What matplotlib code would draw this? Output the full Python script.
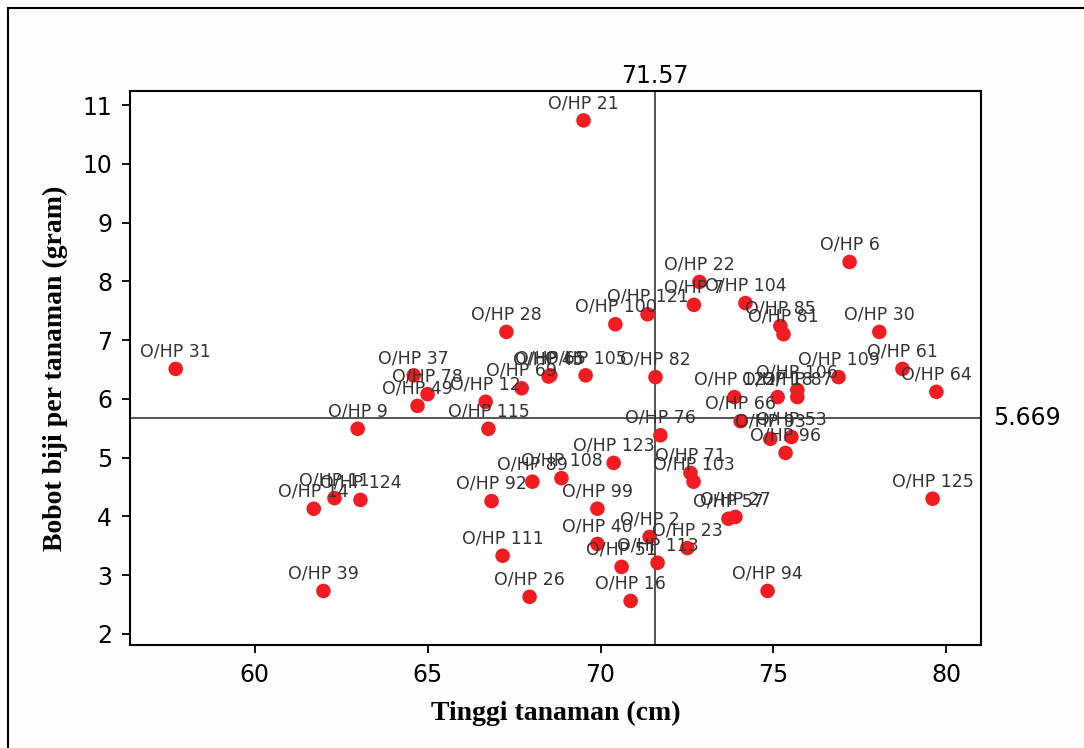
import matplotlib
matplotlib.use("Agg")
import matplotlib.pyplot as plt
from matplotlib.lines import Line2D

# genotype labels, plant height (cm) and seed weight per plant (g)
genotip = [
    "O/HP 31", "O/HP 21", "O/HP 6", "O/HP 22", "O/HP 7", "O/HP 104", "O/HP 85",
    "O/HP 81", "O/HP 30", "O/HP 61", "O/HP 64", "O/HP 109", "O/HP 122", "O/HP 106",
    "O/HP 87", "O/HP 18", "O/HP 66", "O/HP 93", "O/HP 53", "O/HP 96", "O/HP 37",
    "O/HP 78", "O/HP 49", "O/HP 12", "O/HP 69", "O/HP 45", "O/HP 65", "O/HP 105",
    "O/HP 28", "O/HP 100", "O/HP 121", "O/HP 82", "O/HP 115", "O/HP 9", "O/HP 76",
    "O/HP 123", "O/HP 89", "O/HP 108", "O/HP 92", "O/HP 99", "O/HP 40", "O/HP 2",
    "O/HP 23", "O/HP 113", "O/HP 51", "O/HP 16", "O/HP 111", "O/HP 26", "O/HP 71",
    "O/HP 103", "O/HP 57", "O/HP 27", "O/HP 94", "O/HP 125", "O/HP 39", "O/HP 14",
    "O/HP 11", "O/HP 124",
]
tinggi = [
    57.72, 69.51, 77.20, 72.86, 72.70, 74.19, 75.20,
    75.29, 78.06, 78.73, 79.71, 76.88, 73.87, 75.69,
    75.69, 75.12, 74.05, 74.91, 75.52, 75.35, 64.60,
    65.00, 64.71, 66.68, 67.72, 68.50, 68.55, 69.57,
    67.28, 70.43, 71.36, 71.59, 66.76, 62.98, 71.73,
    70.38, 68.03, 68.87, 66.85, 69.91, 69.91, 71.42,
    72.51, 71.65, 70.61, 70.87, 67.17, 67.95, 72.60,
    72.69, 73.70, 73.90, 74.83, 79.60, 61.99, 61.71,
    62.31, 63.06,
]
bobot = [
    6.51, 10.74, 8.33, 7.99, 7.60, 7.63, 7.24,
    7.10, 7.14, 6.51, 6.12, 6.37, 6.03, 6.15,
    6.03, 6.03, 5.62, 5.32, 5.35, 5.08, 6.40,
    6.08, 5.88, 5.95, 6.18, 6.38, 6.40, 6.40,
    7.14, 7.27, 7.44, 6.37, 5.49, 5.49, 5.38,
    4.91, 4.59, 4.65, 4.26, 4.13, 3.53, 3.65,
    3.46, 3.21, 3.14, 2.56, 3.33, 2.63, 4.74,
    4.59, 3.96, 3.99, 2.73, 4.30, 2.73, 4.13,
    4.31, 4.28,
]
rata_tinggi = 71.57
rata_bobot = 5.669
xticks = [60, 65, 70, 75, 80]
yticks = [2, 3, 4, 5, 6, 7, 8, 9, 10, 11]

plt.rcParams["font.family"] = ["DejaVu Sans Condensed", "Liberation Sans Narrow", "DejaVu Sans"]

fig = plt.figure(figsize=(10.84, 7.48), dpi=100, facecolor="#fefefc")
ax = fig.add_axes([0.120, 0.1377, 0.785, 0.7406])
ax.set_facecolor("white")

# outer frame of the original figure (only top and left edges visible)
fig.add_artist(Line2D([8 / 1084, 8 / 1084], [0, 1 - 8 / 748], color="black", lw=1.5))
fig.add_artist(Line2D([8 / 1084, 1], [1 - 8 / 748, 1 - 8 / 748], color="black", lw=1.5))

ax.axvline(rata_tinggi, color="#555555", lw=1.4, zorder=1)
ax.axhline(rata_bobot, color="#555555", lw=1.4, zorder=1)

ax.scatter(tinggi, bobot, s=110, color="#f01c22", edgecolors="none", zorder=3)
for nama, xv, yv in zip(genotip, tinggi, bobot):
    ax.annotate(nama, (xv, yv), xytext=(0, 6), textcoords="offset points",
                ha="center", va="bottom", fontsize=12.5, color="#333333",
                family="DejaVu Sans", zorder=4)

ax.set_xlim(56.4, 81.0)
ax.set_ylim(1.81, 11.24)
ax.set_xticks(xticks)
ax.set_yticks(yticks)
ax.tick_params(direction="out", length=6, width=1.3, labelsize=17, pad=7, colors="black")
for sp in ax.spines.values():
    sp.set_linewidth(1.5)

ax.text(rata_tinggi, 11.3, "71.57", ha="center", va="bottom", fontsize=17)
ax.text(81.35, rata_bobot, "5.669", ha="left", va="center", fontsize=17)

ax.set_xlabel("Tinggi tanaman (cm)", fontsize=20, fontweight="bold",
              family="Liberation Serif", labelpad=10)
ax.set_ylabel("Bobot biji per tanaman (gram)", fontsize=20, fontweight="bold",
              family="Liberation Serif", labelpad=10)

fig.savefig("out.png", dpi=100, facecolor=fig.get_facecolor())
